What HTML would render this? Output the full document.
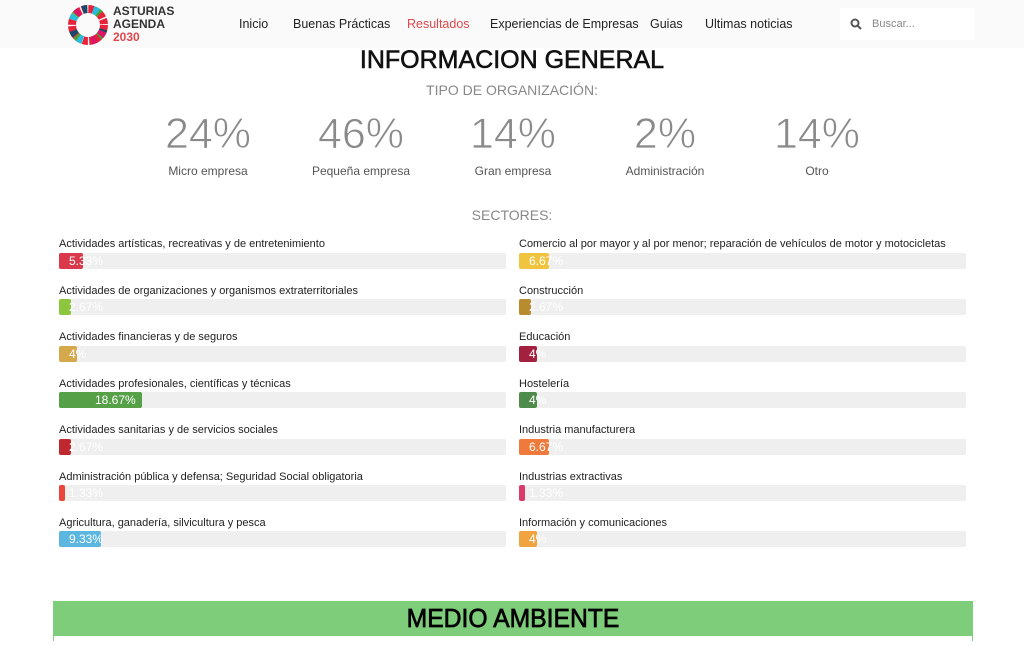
<!DOCTYPE html>
<html><head><meta charset="utf-8"><style>
*{margin:0;padding:0;box-sizing:border-box}
body{width:1024px;height:640px;overflow:hidden;background:#fff;font-family:"Liberation Sans",sans-serif;position:relative;color:#222}
.a{position:absolute;white-space:nowrap}
.nav{font-size:12.5px;color:#222;top:17px}
.big{font-size:43px;color:#8a8a8a;font-weight:300;top:110px;width:160px;text-align:center;-webkit-text-stroke:0.8px #fff}
.lab{font-size:12px;color:#555;top:164px;width:160px;text-align:center}
.rl{font-size:11px;color:#222}
.track{position:absolute;height:16px;width:447px;background:#efefef;border-radius:2px}
.bar{position:absolute;top:0;left:0;height:16px;border-radius:2px}
.bt{position:absolute;top:1px;font-size:12px;color:#fff;white-space:nowrap}
</style></head><body>
<div class="a" style="left:0;top:0;width:1024px;height:48px;background:#fafafa"></div>
<svg class="a" style="left:66px;top:3px" width="44" height="44" viewBox="0 0 44 44">
<g fill="none" stroke-width="8">
<circle cx="22" cy="22" r="16" stroke="#e5243b" stroke-dasharray="5 1.3" transform="rotate(0 22 22)"/>
<circle cx="22" cy="22" r="16" stroke="#4c9f38" stroke-dasharray="5 20" stroke-dashoffset="0" transform="rotate(120 22 22)"/>
<circle cx="22" cy="22" r="16" stroke="#fcc30b" stroke-dasharray="5 20" transform="rotate(200 22 22)"/>
<circle cx="22" cy="22" r="16" stroke="#26bde2" stroke-dasharray="5 20" transform="rotate(290 22 22)"/>
<circle cx="22" cy="22" r="16" stroke="#19486a" stroke-dasharray="5 30" transform="rotate(250 22 22)"/>
<circle cx="22" cy="22" r="16" stroke="#dd1367" stroke-dasharray="5 40" transform="rotate(60 22 22)"/>
</g></svg>
<div class="a" style="left:113px;top:5px;font-size:12px;font-weight:bold;line-height:13px;color:#333">ASTURIAS<br>AGENDA<br><span style="color:#e0474c">2030</span></div>
<div class="a nav" style="left:239px">Inicio</div>
<div class="a nav" style="left:293px">Buenas Prácticas</div>
<div class="a nav" style="left:407px;color:#e0474c">Resultados</div>
<div class="a nav" style="left:490px">Experiencias de Empresas</div>
<div class="a nav" style="left:650px">Guias</div>
<div class="a nav" style="left:705px">Ultimas noticias</div>
<div class="a" style="left:840px;top:8px;width:135px;height:32px;background:#fff"></div>
<svg class="a" style="left:850px;top:18px" width="12" height="12"><circle cx="5" cy="5" r="3.5" stroke="#555" stroke-width="2" fill="none"/><line x1="7.5" y1="7.5" x2="11" y2="11" stroke="#555" stroke-width="2"/></svg>
<div class="a" style="left:872px;top:18px;font-size:11px;color:#888">Buscar...</div>

<div class="a" style="left:0;width:1024px;top:46px;text-align:center;font-size:25px;color:#111;-webkit-text-stroke:0.6px #111">INFORMACION GENERAL</div>
<div class="a" style="left:0;width:1024px;top:82px;text-align:center;font-size:14px;color:#888">TIPO DE ORGANIZACIÓN:</div>
<div class="a big" style="left:128px">24%</div><div class="a lab" style="left:128px">Micro empresa</div>
<div class="a big" style="left:281px">46%</div><div class="a lab" style="left:281px">Pequeña empresa</div>
<div class="a big" style="left:433px">14%</div><div class="a lab" style="left:433px">Gran empresa</div>
<div class="a big" style="left:585px">2%</div><div class="a lab" style="left:585px">Administración</div>
<div class="a big" style="left:737px">14%</div><div class="a lab" style="left:737px">Otro</div>
<div class="a" style="left:0;width:1024px;top:207px;text-align:center;font-size:14px;color:#888">SECTORES:</div>

<div class="a rl" style="left:59px;top:238px">Actividades artísticas, recreativas y de entretenimiento</div>
<div class="track" style="left:59px;top:253px"><div class="bar" style="width:24px;background:#d9394a"></div><div class="bt" style="left:10px">5.33%</div></div>
<div class="a rl" style="left:59px;top:285px">Actividades de organizaciones y organismos extraterritoriales</div>
<div class="track" style="left:59px;top:299px"><div class="bar" style="width:12px;background:#8cc63f"></div><div class="bt" style="left:10px">2.67%</div></div>
<div class="a rl" style="left:59px;top:331px">Actividades financieras y de seguros</div>
<div class="track" style="left:59px;top:346px"><div class="bar" style="width:18px;background:#d4a84b"></div><div class="bt" style="left:10px">4%</div></div>
<div class="a rl" style="left:59px;top:378px">Actividades profesionales, científicas y técnicas</div>
<div class="track" style="left:59px;top:392px"><div class="bar" style="width:83px;background:#56a047"></div><div class="bt" style="left:36px">18.67%</div></div>
<div class="a rl" style="left:59px;top:424px">Actividades sanitarias y de servicios sociales</div>
<div class="track" style="left:59px;top:439px"><div class="bar" style="width:12px;background:#c0282f"></div><div class="bt" style="left:10px">2.67%</div></div>
<div class="a rl" style="left:59px;top:471px">Administración pública y defensa; Seguridad Social obligatoria</div>
<div class="track" style="left:59px;top:485px"><div class="bar" style="width:6px;background:#e9453a"></div><div class="bt" style="left:10px">1.33%</div></div>
<div class="a rl" style="left:59px;top:517px">Agricultura, ganadería, silvicultura y pesca</div>
<div class="track" style="left:59px;top:531px"><div class="bar" style="width:42px;background:#5bb7df"></div><div class="bt" style="left:10px">9.33%</div></div>

<div class="a rl" style="left:519px;top:238px">Comercio al por mayor y al por menor; reparación de vehículos de motor y motocicletas</div>
<div class="track" style="left:519px;top:253px"><div class="bar" style="width:30px;background:#f0c43e"></div><div class="bt" style="left:10px">6.67%</div></div>
<div class="a rl" style="left:519px;top:285px">Construcción</div>
<div class="track" style="left:519px;top:299px"><div class="bar" style="width:12px;background:#b98b2f"></div><div class="bt" style="left:10px">2.67%</div></div>
<div class="a rl" style="left:519px;top:331px">Educación</div>
<div class="track" style="left:519px;top:346px"><div class="bar" style="width:18px;background:#a3213f"></div><div class="bt" style="left:10px">4%</div></div>
<div class="a rl" style="left:519px;top:378px">Hostelería</div>
<div class="track" style="left:519px;top:392px"><div class="bar" style="width:18px;background:#4f8c4c"></div><div class="bt" style="left:10px">4%</div></div>
<div class="a rl" style="left:519px;top:424px">Industria manufacturera</div>
<div class="track" style="left:519px;top:439px"><div class="bar" style="width:30px;background:#ef7a3b"></div><div class="bt" style="left:10px">6.67%</div></div>
<div class="a rl" style="left:519px;top:471px">Industrias extractivas</div>
<div class="track" style="left:519px;top:485px"><div class="bar" style="width:6px;background:#dc3a6a"></div><div class="bt" style="left:10px">1.33%</div></div>
<div class="a rl" style="left:519px;top:517px">Información y comunicaciones</div>
<div class="track" style="left:519px;top:531px"><div class="bar" style="width:18px;background:#f0a33e"></div><div class="bt" style="left:10px">4%</div></div>

<div class="a" style="left:53px;top:601px;width:920px;height:40px;background:#7dcd7b;border:1px solid #7dcd7b"></div>
<div class="a" style="left:54px;top:636px;width:918px;height:10px;background:#fff"></div>
<div class="a" style="left:53px;width:920px;top:603px;text-align:center;font-size:26px;color:#000;transform:scaleX(0.95);-webkit-text-stroke:0.7px #000">MEDIO AMBIENTE</div>
</body></html>
